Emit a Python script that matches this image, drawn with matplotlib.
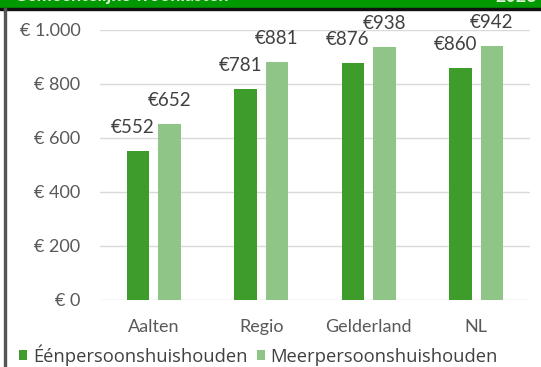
import matplotlib.pyplot as plt
import numpy as np
from matplotlib.patches import Rectangle

categories = ['Aalten', 'Regio', 'Gelderland', 'NL']
eenpersoons = [552, 781, 876, 860]
meerpersoons = [652, 881, 938, 942]
series_names = ['Éénpersoonshuishouden', 'Meerpersoonshuishouden']
yticks = [0, 200, 400, 600, 800, 1000]
ytick_labels = ['€ 0', '€ 200', '€ 400', '€ 600', '€ 800', '€ 1.000']

dark = '#3e9c2b'
light = '#8fc586'
txt = '#404040'

plt.rcParams['font.family'] = ['Lato', 'DejaVu Sans']

fig = plt.figure(figsize=(5.41, 3.67), dpi=100)

# green header strip, mostly cut off at the top
fig.patches.append(Rectangle((0, 1 - 8/367), 1, 8/367, transform=fig.transFigure,
                             color='#009900', zorder=0))
fig.patches.append(Rectangle((0, 1 - 10/367), 1, 2/367, transform=fig.transFigure,
                             color='#111111', zorder=0))
fig.patches.append(Rectangle((4/541, 0), 2/541, 1 - 8/367, transform=fig.transFigure,
                             color='#555555', zorder=0))
fig.text(14/541, 1 + 4/367, 'Gemeentelijke woonlasten', color='#d8f0d0', fontsize=13,
         fontweight='bold', va='center', ha='left')
fig.text(1 - 4/541, 1 + 4/367, '2023', color='#d8f0d0', fontsize=13,
         fontweight='bold', va='center', ha='right')

ax = fig.add_axes([100/541, 1 - 300/367, 430/541, 270/367])
x = np.arange(len(categories))
w = 0.21
off = 0.145
b1 = ax.bar(x - off, eenpersoons, w, color=dark, label=series_names[0], zorder=3)
b2 = ax.bar(x + off, meerpersoons, w, color=light, label=series_names[1], zorder=3)

for bars, vals, dx in ((b1, eenpersoons, -4), (b2, meerpersoons, 0)):
    for b, v in zip(bars, vals):
        ax.annotate(f'€{v}', (b.get_x() + b.get_width() / 2, v), xytext=(dx, 17),
                    textcoords='offset points', ha='center', va='center',
                    fontsize=13.5, color=txt, zorder=4)

ax.set_xlim(-0.5, len(categories) - 0.5)
ax.set_ylim(0, 1000)
ax.set_yticks(yticks)
ax.set_yticklabels(ytick_labels)
ax.set_xticks(x)
ax.set_xticklabels(categories)
ax.tick_params(axis='both', length=0, labelsize=13, labelcolor='#595959')
ax.tick_params(axis='x', pad=14)
ax.tick_params(axis='y', pad=14)
ax.grid(axis='y', color='#d9d9d9', lw=1, zorder=0)
for s in ax.spines.values():
    s.set_visible(False)

fig.legend(handles=[b1, b2], loc='center left', bbox_to_anchor=(10/541, 1 - 355/367),
           ncol=2, frameon=False, handlelength=0.45, handleheight=0.45,
           handletextpad=0.3, columnspacing=0.5, borderpad=0, labelcolor=txt,
           prop={'family': ['Open Sans', 'DejaVu Sans'], 'size': 13.2})

fig.savefig('out.png', dpi=100)
